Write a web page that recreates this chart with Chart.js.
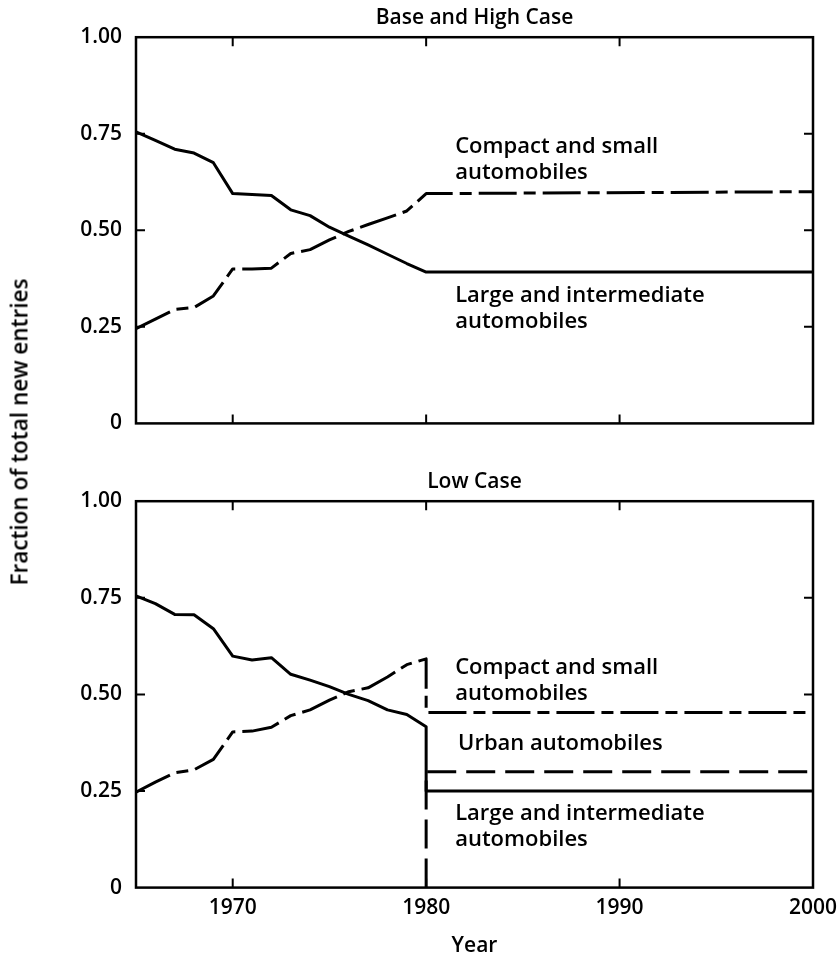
<!DOCTYPE html>
<html>
<head>
<meta charset="utf-8">
<script src="https://cdn.jsdelivr.net/npm/chart.js@4.4.0/dist/chart.umd.min.js"></script>
<style>
    html, body { margin: 0; padding: 0; background: #fff; overflow: hidden; }
    body { width: 837px; height: 958px; position: relative; }
    canvas { position: absolute; left: 0; }
    #graficoAlto { top: 0; }
    #graficoBaixo { top: 458px; }
    #tituloY {
        position: absolute; left: 19px; top: 432px;
        transform: translate(-50%, -50%) rotate(-90deg);
        font: 600 22.5px "Open Sans", sans-serif; color: #000; white-space: nowrap;
    }
</style>
</head>
<body>
<canvas id="graficoAlto" width="850" height="450"></canvas>
<canvas id="graficoBaixo" width="850" height="520"></canvas>
<div id="tituloY">Fraction of total new entries</div>
<script>
// Anos 1965..1980 e depois o patamar até 2000
const anos = [1965, 1966, 1967, 1968, 1969, 1970, 1971, 1972, 1973, 1974, 1975, 1976, 1977, 1978, 1979, 1980, 2000];
const anosQueda = [1965, 1966, 1967, 1968, 1969, 1970, 1971, 1972, 1973, 1974, 1975, 1976, 1977, 1978, 1979, 1980, 1980, 2000];
const anosUrbanos = [1980, 1980, 2000];

// Caso base e alto
const grandesBase = [0.755, 0.733, 0.71, 0.70, 0.675, 0.595, 0.593, 0.59, 0.553, 0.538, 0.508, 0.485, 0.462, 0.438, 0.414, 0.392, 0.392];
const compactosBase = [0.245, 0.27, 0.295, 0.30, 0.33, 0.40, 0.40, 0.402, 0.44, 0.45, 0.475, 0.497, 0.515, 0.532, 0.55, 0.595, 0.60];

// Caso baixo
const grandesBaixo = [0.755, 0.735, 0.707, 0.706, 0.67, 0.599, 0.589, 0.595, 0.552, 0.537, 0.52, 0.50, 0.484, 0.46, 0.448, 0.416, 0.25, 0.25];
const compactosBaixo = [0.247, 0.273, 0.297, 0.305, 0.332, 0.403, 0.405, 0.415, 0.445, 0.46, 0.485, 0.507, 0.517, 0.545, 0.577, 0.592, 0.453, 0.453];
const urbanosBaixo = [0, 0.30, 0.30];

const ticksAno = [1970, 1980, 1990, 2000];
const ticksFracao = [0, 0.25, 0.5, 0.75, 1];
const rotulosFracao = ['0', '0.25', '0.50', '0.75', '1.00'];

const fonte = '"Open Sans", sans-serif';
const peso = 600;
const tracoCompacto = [38, 7, 12, 7];
const tracoUrbano = [29, 10];

function pontos(xs, ys) {
    return xs.map((x, i) => ({ x: x, y: ys[i] }));
}

function serie(label, xs, ys, dash) {
    return {
        label: label,
        data: pontos(xs, ys),
        borderColor: '#000',
        borderWidth: 3,
        borderDash: dash,
        borderCapStyle: 'butt',
        borderJoinStyle: 'round',
        pointRadius: 0,
        tension: 0,
        fill: false
    };
}

// moldura e traços internos dos eixos
const moldura = {
    id: 'moldura',
    afterDatasetsDraw(chart) {
        const { ctx, chartArea: a, scales } = chart;
        ctx.save();
        ctx.strokeStyle = '#000';
        ctx.lineWidth = 2;
        ctx.beginPath();
        ticksAno.forEach(v => {
            const px = scales.x.getPixelForValue(v);
            if (px >= a.right - 1) return;
            ctx.moveTo(px, a.top); ctx.lineTo(px, a.top + 9);
            ctx.moveTo(px, a.bottom); ctx.lineTo(px, a.bottom - 9);
        });
        ticksFracao.forEach(v => {
            const py = scales.y.getPixelForValue(v);
            if (py <= a.top + 1 || py >= a.bottom - 1) return;
            ctx.moveTo(a.left, py); ctx.lineTo(a.left + 9, py);
            ctx.moveTo(a.right, py); ctx.lineTo(a.right - 9, py);
        });
        ctx.stroke();
        ctx.lineWidth = 2.5;
        ctx.strokeRect(a.left, a.top, a.right - a.left, a.bottom - a.top);
        ctx.restore();
    }
};

// textos ao lado das linhas
const rotulos = {
    id: 'rotulos',
    afterDraw(chart) {
        const textos = chart.options.plugins.rotulos.textos;
        const { ctx, scales } = chart;
        ctx.save();
        ctx.fillStyle = '#000';
        ctx.font = peso + ' 22px ' + fonte;
        ctx.textAlign = 'left';
        ctx.textBaseline = 'middle';
        textos.forEach(t => {
            const px = scales.x.getPixelForValue(t.x);
            const py = scales.y.getPixelForValue(t.y);
            t.linhas.forEach((linha, i) => ctx.fillText(linha, px, py + i * 26));
        });
        ctx.restore();
    }
};

function opcoes(titulo, pad, comAnos, textos) {
    const f = { family: fonte, size: 21, weight: peso };
    return {
        responsive: false,
        animation: false,
        layout: { padding: pad },
        plugins: {
            legend: { display: false },
            tooltip: { enabled: false },
            title: {
                display: true,
                text: titulo,
                fullSize: false,
                color: '#000',
                font: f,
                padding: comAnos ? { top: 11, bottom: 7 } : { top: 5, bottom: 7 }
            },
            rotulos: { textos: textos }
        },
        scales: {
            x: {
                type: 'linear',
                min: 1965,
                max: 2000,
                display: comAnos,
                afterBuildTicks: s => { s.ticks = ticksAno.map(v => ({ value: v })); },
                grid: { display: false, drawTicks: false },
                border: { display: false },
                ticks: {
                    color: '#000',
                    padding: 8,
                    maxRotation: 0,
                    font: f,
                    callback: v => String(v)
                },
                title: {
                    display: comAnos,
                    text: 'Year',
                    color: '#000',
                    font: f,
                    padding: { top: 5, bottom: 0 }
                }
            },
            y: {
                min: 0,
                max: 1,
                afterBuildTicks: s => { s.ticks = ticksFracao.map(v => ({ value: v })); },
                afterFit: s => { s.width = 136; },
                grid: { display: false, drawTicks: false },
                border: { display: false },
                ticks: {
                    color: '#000',
                    padding: 14,
                    font: f,
                    callback: v => rotulosFracao[ticksFracao.indexOf(v)]
                }
            }
        }
    };
}

new Chart(document.getElementById('graficoAlto'), {
    type: 'line',
    data: {
        datasets: [
            serie('Large and intermediate automobiles', anos, grandesBase, []),
            serie('Compact and small automobiles', anos, compactosBase, tracoCompacto)
        ]
    },
    options: opcoes('Base and High Case', { top: 0, right: 37, bottom: 22, left: 0 }, false, [
        { x: 1981.5, y: 0.717, linhas: ['Compact and small', 'automobiles'] },
        { x: 1981.5, y: 0.33, linhas: ['Large and intermediate', 'automobiles'] }
    ]),
    plugins: [moldura, rotulos]
});

new Chart(document.getElementById('graficoBaixo'), {
    type: 'line',
    data: {
        datasets: [
            serie('Large and intermediate automobiles', anosQueda, grandesBaixo, []),
            serie('Compact and small automobiles', anosQueda, compactosBaixo, tracoCompacto),
            serie('Urban automobiles', anosUrbanos, urbanosBaixo, tracoUrbano)
        ]
    },
    options: opcoes('Low Case', { top: 0, right: 37, bottom: 19, left: 0 }, true, [
        { x: 1981.5, y: 0.57, linhas: ['Compact and small', 'automobiles'] },
        { x: 1981.65, y: 0.372, linhas: ['Urban automobiles'] },
        { x: 1981.5, y: 0.192, linhas: ['Large and intermediate', 'automobiles'] }
    ]),
    plugins: [moldura, rotulos]
});
</script>
</body>
</html>
